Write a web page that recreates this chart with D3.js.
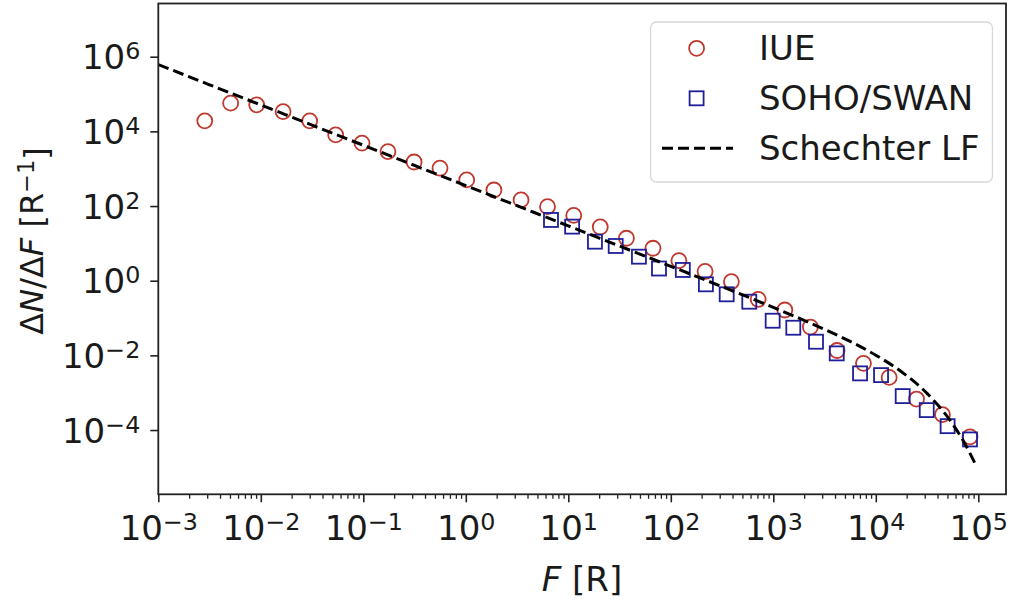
<!DOCTYPE html>
<html><head><meta charset="utf-8">
<script src="https://cdn.jsdelivr.net/npm/d3@7/dist/d3.min.js"></script>
<style>body{margin:0;background:#fff}svg{display:block}text{font-family:"DejaVu Sans",sans-serif;fill:#1a1a1a}</style>
</head><body><svg id="c" width="1013" height="602"></svg>
<script>
// IUE data
const iueF = [2.84e-3,5.08e-3,9.12e-3,0.0165,0.0300,0.0538,0.0971,0.174,0.313,0.560,1.02,1.88,3.46,6.27,11.3,20.5,36.9,67.0,120,216,390,712,1295,2300,4190,7580,13500,24950,44700,83000];
const iueN = [1.91e4,5.70e4,5.13e4,3.39e4,1.91e4,8050,4830,2870,1510,1030,501,269,146,96.4,56.0,27.5,13.7,7.40,3.44,1.77,0.94,0.317,0.164,0.0574,0.0135,0.00611,0.00257,6.76e-4,2.59e-4,6.58e-5];
// SOHO/SWAN data
const swanF = [6.78,10.9,18.2,29.0,48.9,76.7,131,220,351,583,986,1567,2610,4160,7020,11250,18300,31400,50200,83000];
const swanN = [42.4,28.1,11.1,8.51,4.40,2.12,1.94,0.80,0.432,0.274,0.0847,0.0550,0.0232,0.0113,0.00329,0.00296,8.11e-4,3.42e-4,1.27e-4,5.60e-5];
// Schechter LF curve
const lfF = [1e-3,3.16e-3,0.01,0.0316,0.1,0.316,1,3.16,10,31.6,100,316,1000,1778,3162,5623,10000,17783,31623,56234,70795,95499];
const lfN = [6.14e5,1.77e5,5.11e4,1.47e4,4.25e3,1.22e3,353,102,29.4,8.45,2.43,0.693,0.193,0.0995,0.0498,0.0236,0.0101,0.00364,9.59e-4,1.45e-4,5.36e-5,1.09e-5];
// axis ticks
const xTickExp = [-3,-2,-1,0,1,2,3,4,5];
const yTickExp = [-4,-2,0,2,4,6];
const legendLabels = ["IUE","SOHO/SWAN","Schechter LF"];

const svg = d3.select("#c");
const L=158.3, R=1006, T=3.5, B=494.3;
const x = d3.scaleLog().domain([1e-3,1e5]).range([158.3,978.3]);
const y = d3.scaleLog().domain([1,1e6]).range([280.7,56.7]);
const FS = 34;
const red = "#c0392f", blue = "#1f1f99";

function supLabel(sel, exp){
  sel.text("10");
  sel.append("tspan").attr("dy","-0.42em").attr("font-size", FS*0.7+"px")
     .text(exp<0 ? "\u2212"+(-exp) : String(exp));
}

// minor ticks
const minor = [];
for (let k=-3;k<=4;k++) for (let m=2;m<=9;m++) minor.push(m*Math.pow(10,k));
const gxMinor = svg.append("g").attr("transform",`translate(0,${B})`)
  .call(d3.axisBottom(x).tickValues(minor).tickSize(4.5).tickFormat(""));
gxMinor.select(".domain").remove();
gxMinor.selectAll("line").attr("stroke","#222").attr("stroke-width",1.3);

const gx = svg.append("g").attr("transform",`translate(0,${B})`)
  .call(d3.axisBottom(x).tickValues(xTickExp.map(e=>Math.pow(10,e))).tickSize(8).tickPadding(5).tickFormat(""));
gx.select(".domain").remove();
gx.selectAll("line").attr("stroke","#222").attr("stroke-width",1.6);
gx.selectAll(".tick").each(function(d,i){
  const t = d3.select(this).append("text").attr("y",46).attr("text-anchor","middle")
    .attr("font-size",FS+"px").attr("fill","#1a1a1a");
  supLabel(t, xTickExp[i]);
});

const gy = svg.append("g").attr("transform",`translate(${L},0)`)
  .call(d3.axisLeft(y).tickValues(yTickExp.map(e=>Math.pow(10,e))).tickSize(8).tickFormat(""));
gy.select(".domain").remove();
gy.selectAll("line").attr("stroke","#222").attr("stroke-width",1.6);
gy.selectAll(".tick").each(function(d,i){
  const t = d3.select(this).append("text").attr("x",-18).attr("y",12).attr("text-anchor","end")
    .attr("font-size",FS+"px").attr("fill","#1a1a1a");
  supLabel(t, yTickExp[i]);
});

// clip
svg.append("clipPath").attr("id","clip").append("rect").attr("x",L).attr("y",T).attr("width",R-L).attr("height",B-T);
const plot = svg.append("g").attr("clip-path","url(#clip)");

plot.selectAll("circle.iue").data(iueF.map((f,i)=>[f,iueN[i]])).enter().append("circle")
  .attr("cx",d=>x(d[0])).attr("cy",d=>y(d[1])).attr("r",7.5)
  .attr("fill","none").attr("stroke",red).attr("stroke-width",1.8);
const sq = 14;
plot.selectAll("rect.swan").data(swanF.map((f,i)=>[f,swanN[i]])).enter().append("rect")
  .attr("x",d=>x(d[0])-sq/2).attr("y",d=>y(d[1])-sq/2).attr("width",sq).attr("height",sq)
  .attr("fill","none").attr("stroke",blue).attr("stroke-width",1.8);
const line = d3.line().x(d=>x(d[0])).y(d=>y(d[1])).curve(d3.curveMonotoneX);
plot.append("path").datum(lfF.map((f,i)=>[f,lfN[i]])).attr("d",line)
  .attr("fill","none").attr("stroke","#000").attr("stroke-width",3).attr("stroke-dasharray","11,5");

// frame
svg.append("rect").attr("x",L).attr("y",T).attr("width",R-L).attr("height",B-T)
  .attr("fill","none").attr("stroke","#222").attr("stroke-width",1.8);

// legend
const lg = svg.append("g");
lg.append("rect").attr("x",650.5).attr("y",22).attr("width",342).attr("height",160).attr("rx",6)
  .attr("fill","#fff").attr("fill-opacity",0.85).attr("stroke","#d8d8d8").attr("stroke-width",1.3);
const ly = [48.3,98.3,148.3];
lg.append("circle").attr("cx",696.6).attr("cy",ly[0]).attr("r",7.5).attr("fill","none").attr("stroke",red).attr("stroke-width",1.8);
lg.append("rect").attr("x",696.6-sq/2).attr("y",ly[1]-sq/2).attr("width",sq).attr("height",sq).attr("fill","none").attr("stroke",blue).attr("stroke-width",1.8);
lg.append("line").attr("x1",662).attr("x2",733).attr("y1",ly[2]).attr("y2",ly[2]).attr("stroke","#000").attr("stroke-width",3).attr("stroke-dasharray","11,5");
legendLabels.forEach((s,i)=>{
  lg.append("text").attr("x",759).attr("y",ly[i]+12).attr("font-size",FS+"px").text(s);
});

// axis labels
const xl = svg.append("text").attr("x",582).attr("y",591).attr("text-anchor","middle").attr("font-size",FS+"px");
xl.append("tspan").attr("font-style","italic").text("F");
xl.append("tspan").text(" [R]");
const yl = svg.append("text").attr("transform","translate(43,241) rotate(-90)").attr("text-anchor","middle").attr("font-size",(FS-2)+"px");
yl.append("tspan").text("\u0394");
yl.append("tspan").attr("font-style","italic").text("N");
yl.append("tspan").text("/\u0394");
yl.append("tspan").attr("font-style","italic").text("F");
yl.append("tspan").text(" [R");
yl.append("tspan").attr("dy","-0.42em").attr("font-size",(FS-2)*0.7+"px").text("\u22121");
yl.append("tspan").attr("dy","0.42em").text("]");
</script></body></html>
